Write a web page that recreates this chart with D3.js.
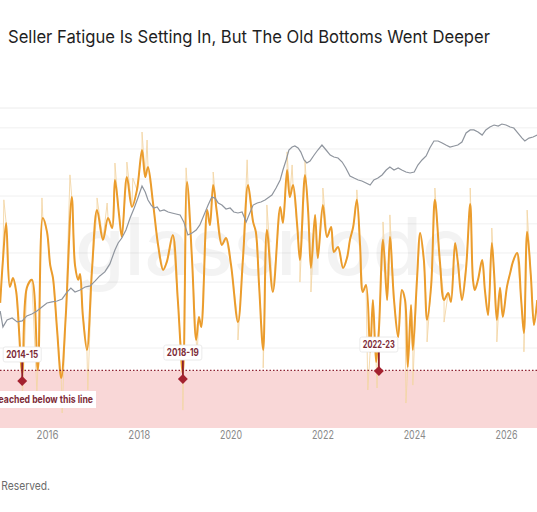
<!DOCTYPE html>
<html>
<head>
<meta charset="utf-8">
<script src="https://cdn.jsdelivr.net/npm/d3@7"></script>
<style>
body { margin: 0; background: #fff; }
svg { display: block; font-family: Inter, "Noto Sans", sans-serif; }
</style>
</head>
<body>
<div id="chart"></div>
<script>
// price (grey, log scale) - [decimal year, USD]
const priceSeries = [
  [2014.98,357],[2015.04,216],[2015.13,269],[2015.24,287],[2015.35,253],[2015.46,261],[2015.56,306],[2015.67,325],
  [2015.78,357],[2015.89,406],[2016.00,460],[2016.11,475],[2016.22,490],[2016.33,522],[2016.44,651],[2016.52,738],
  [2016.61,651],[2016.72,693],[2016.83,762],[2016.94,787],[2017.05,922],[2017.15,1080],[2017.26,1225],[2017.37,1577],
  [2017.48,2450],[2017.55,3055],[2017.63,3575],[2017.72,4600],[2017.81,6720],[2017.90,9200],[2017.98,12600],[2018.07,18400],
  [2018.14,15250],[2018.20,11850],[2018.27,10100],[2018.33,9200],[2018.40,9500],[2018.46,8380],[2018.55,8650],[2018.64,8110],
  [2018.72,7870],[2018.81,7620],[2018.90,7380],[2018.98,5930],[2019.07,3930],[2019.16,4190],[2019.25,4600],[2019.33,5390],
  [2019.42,7380],[2019.51,10100],[2019.59,13000],[2019.66,12600],[2019.73,10800],[2019.81,10100],[2019.90,8920],[2019.99,9200],
  [2020.07,8110],[2020.16,7870],[2020.25,8110],[2020.34,5930],[2020.40,7380],[2020.49,10100],[2020.58,10800],[2020.66,11130],
  [2020.75,11850],[2020.81,12600],[2020.90,13870],[2020.99,17300],[2021.08,22300],[2021.14,30500],[2021.21,41900],[2021.27,57400],
  [2021.34,63100],[2021.40,65100],[2021.47,61100],[2021.53,53800],[2021.60,41900],[2021.66,38100],[2021.73,40600],[2021.82,49000],
  [2021.90,57400],[2021.99,67100],[2022.08,57400],[2022.17,49000],[2022.25,46000],[2022.34,44600],[2022.43,39300],[2022.51,32500],
  [2022.60,25300],[2022.69,23700],[2022.78,22300],[2022.86,21600],[2022.95,20300],[2023.04,19000],[2023.12,22300],[2023.21,23700],
  [2023.30,26100],[2023.39,30500],[2023.47,33600],[2023.56,30500],[2023.65,32500],[2023.73,30500],[2023.82,28700],[2023.91,27800],
  [2024.00,28700],[2024.08,35700],[2024.17,41900],[2024.26,47500],[2024.34,61100],[2024.43,76200],[2024.52,76200],[2024.61,71600],
  [2024.69,67100],[2024.78,63100],[2024.87,65100],[2024.95,67100],[2025.04,73900],[2025.13,98100],[2025.22,108000],[2025.30,108000],
  [2025.39,101200],[2025.48,92000],[2025.56,108000],[2025.65,118600],[2025.74,126200],[2025.83,122300],[2025.91,130300],[2026.00,126200],
  [2026.09,118600],[2026.17,114800],[2026.26,98100],[2026.35,83700],[2026.41,76200],[2026.50,83700],[2026.59,86400],[2026.68,92000]
];

// oscillator, smoothed (orange) - [decimal year, value]
const oscSeries = [
  [2014.98,39.1],[2015.04,52.5],[2015.11,64.1],[2015.19,44.1],[2015.26,46.9],[2015.33,42.5],[2015.46,17.2],[2015.56,43.8],
  [2015.67,46.3],[2015.80,18.1],[2015.91,65.6],[2016.00,61.3],[2016.07,50.9],[2016.13,46.9],[2016.22,30.6],[2016.31,15.6],
  [2016.41,35.3],[2016.54,72.2],[2016.61,50.9],[2016.68,46.3],[2016.72,48.1],[2016.78,35.3],[2016.87,24.4],[2016.98,49.4],
  [2017.09,68.1],[2017.22,58.8],[2017.33,65.6],[2017.42,62.5],[2017.48,77.5],[2017.57,66.6],[2017.63,59.7],[2017.74,78.4],
  [2017.85,69.1],[2017.96,74.4],[2018.07,86.9],[2018.14,78.4],[2018.20,81.6],[2018.31,70.3],[2018.42,57.2],[2018.53,49.4],
  [2018.61,51.9],[2018.74,60.3],[2018.85,40.0],[2018.96,16.9],[2019.05,76.9],[2019.16,52.5],[2019.25,27.5],[2019.31,34.7],
  [2019.36,31.6],[2019.49,68.1],[2019.55,63.4],[2019.62,75.9],[2019.70,67.5],[2019.81,57.2],[2019.90,59.4],[2020.01,50.9],
  [2020.16,33.1],[2020.27,53.1],[2020.38,75.9],[2020.49,64.4],[2020.55,61.3],[2020.62,44.7],[2020.71,24.4],[2020.79,61.9],
  [2020.92,42.5],[2021.08,69.1],[2021.14,64.1],[2021.23,80.6],[2021.29,72.2],[2021.36,75.9],[2021.45,63.4],[2021.51,52.5],
  [2021.62,79.1],[2021.69,67.5],[2021.75,50.0],[2021.84,66.6],[2021.90,53.1],[2022.01,69.7],[2022.10,59.7],[2022.19,62.8],
  [2022.25,55.0],[2022.34,56.6],[2022.45,50.0],[2022.54,53.4],[2022.60,58.8],[2022.67,62.8],[2022.75,71.3],[2022.82,57.2],
  [2022.88,42.5],[2022.95,44.7],[2023.04,23.8],[2023.10,40.0],[2023.17,20.6],[2023.23,30.6],[2023.32,58.8],[2023.41,40.0],
  [2023.47,59.7],[2023.56,40.0],[2023.65,28.4],[2023.73,43.1],[2023.80,40.0],[2023.86,19.1],[2023.93,38.4],[2023.97,24.4],
  [2024.06,46.3],[2024.13,60.9],[2024.21,52.5],[2024.28,33.8],[2024.37,44.7],[2024.45,71.3],[2024.56,51.9],[2024.65,40.0],
  [2024.74,42.2],[2024.80,39.4],[2024.89,57.8],[2024.95,51.9],[2025.04,40.0],[2025.13,50.0],[2025.22,70.0],[2025.28,46.3],
  [2025.32,43.1],[2025.39,46.3],[2025.48,52.5],[2025.54,43.1],[2025.61,35.3],[2025.69,57.8],[2025.74,48.4],[2025.80,33.8],
  [2025.87,43.8],[2025.93,34.7],[2026.02,44.1],[2026.09,48.4],[2026.15,51.9],[2026.24,54.7],[2026.33,40.0],[2026.39,29.7],
  [2026.46,61.3],[2026.54,47.8],[2026.61,32.2],[2026.68,40.0]
];

// raw oscillator spikes (faint orange) - [decimal year, value]
const rawSpikes = [
  [2015.06,71.3],[2015.46,7.2],[2015.78,11.3],[2015.89,71.9],[2016.33,4.7],[2016.50,79.1],[2016.89,11.9],[2017.09,71.9],
  [2017.31,70.3],[2017.48,82.8],[2017.74,83.1],[2017.87,78.1],[2018.07,92.5],[2018.18,90.0],[2018.96,5.6],[2019.03,81.3],
  [2019.27,22.8],[2019.62,80.0],[2020.16,27.5],[2020.36,83.8],[2020.71,18.8],[2020.79,69.7],[2021.23,86.3],[2021.34,82.2],
  [2021.51,45.6],[2021.62,83.8],[2021.75,42.5],[2022.01,75.0],[2022.75,74.4],[2022.99,11.9],[2023.19,12.5],[2023.32,64.4],
  [2023.47,66.6],[2023.82,7.8],[2023.97,13.4],[2024.28,26.9],[2024.45,75.0],[2024.65,33.1],[2025.22,75.0],[2025.69,62.5],
  [2025.80,26.9],[2026.39,23.8],[2026.46,68.1]
];

// cycle bottoms
const bottomYears = [2015.46, 2018.96, 2023.23];
const bottomValues = [14.7, 15.3, 17.8];
const bottomLabels = ["2014-15", "2018-19", "2022-23"];

const threshold = 18;
const yearTicks = [2016, 2018, 2020, 2022, 2024, 2026];
const gridValues = [93.8, 87.2, 77.8, 72.5, 63.8, 54.7, 45.6, 34.4, 25.0];

const title = "Seller Fatigue Is Setting In, But The Old Bottoms Went Deeper";
const zoneNote = "Reached below this line";
const footer = "© 2025 Glassnode. All Rights Reserved.";

function drawChart() {
    const width = 537, height = 512;
    const top = 108, bottom = 428;

    const svg = d3.select("#chart").append("svg")
        .attr("width", width)
        .attr("height", height)
        .style("background", "#fff");

    const x = d3.scaleLinear().domain([2014.976, 2026.675]).range([0, width]);
    const yOsc = d3.scaleLinear().domain([0, 100]).range([bottom, top]);
    const yPrice = d3.scaleLog().domain([8.9, 216000]).range([bottom, top]);

    // title (source image is a bit squeezed sideways, hence textLength)
    svg.append("text")
        .attr("x", 8).attr("y", 43)
        .attr("fill", "#1f1f1f")
        .attr("textLength", 482)
        .attr("lengthAdjust", "spacingAndGlyphs")
        .style("font-size", "17.5px")
        .text(title);

    // top separator
    svg.append("line")
        .attr("x1", 0).attr("x2", width)
        .attr("y1", top).attr("y2", top)
        .attr("stroke", "#ececec");

    // grid lines
    svg.append("g").selectAll("line")
        .data(gridValues)
        .enter().append("line")
        .attr("x1", 0).attr("x2", width)
        .attr("y1", d => yOsc(d)).attr("y2", d => yOsc(d))
        .attr("stroke", "#f0f0f0");

    // watermark
    svg.append("text")
        .attr("x", 272).attr("y", 275)
        .attr("text-anchor", "middle")
        .attr("fill", "#000")
        .attr("opacity", 0.045)
        .style("font-size", "80px")
        .style("font-weight", 500)
        .text("glassnode");

    // pink zone below threshold
    svg.append("rect")
        .attr("x", 0).attr("width", width)
        .attr("y", yOsc(threshold))
        .attr("height", yOsc(0) - yOsc(threshold))
        .attr("fill", "#f9d7d7");

    svg.append("clipPath").attr("id", "plotclip")
        .append("rect").attr("x", 0).attr("y", top).attr("width", width).attr("height", bottom - top);

    const plot = svg.append("g").attr("clip-path", "url(#plotclip)");

    // faint raw line: smooth points plus the spikes
    const rawPoints = oscSeries.concat(rawSpikes).sort((a, b) => a[0] - b[0]);
    plot.append("path")
        .datum(rawPoints)
        .attr("fill", "none")
        .attr("stroke", "#f3d6a6")
        .attr("stroke-width", 0.9)
        .attr("d", d3.line().x(d => x(d[0])).y(d => yOsc(d[1])));

    // smoothed oscillator
    plot.append("path")
        .datum(oscSeries)
        .attr("fill", "none")
        .attr("stroke", "#eb9c2c")
        .attr("stroke-width", 2)
        .attr("stroke-linejoin", "round")
        .attr("d", d3.line().curve(d3.curveCatmullRom.alpha(0.5)).x(d => x(d[0])).y(d => yOsc(d[1])));

    // price
    plot.append("path")
        .datum(priceSeries)
        .attr("fill", "none")
        .attr("stroke", "#8f959e")
        .attr("stroke-width", 1.2)
        .attr("d", d3.line().x(d => x(d[0])).y(d => yPrice(d[1])));

    // threshold dotted line
    svg.append("line")
        .attr("x1", 0).attr("x2", width)
        .attr("y1", yOsc(threshold)).attr("y2", yOsc(threshold))
        .attr("stroke", "#8e2433")
        .attr("stroke-width", 1.2)
        .attr("stroke-dasharray", "1.5,2");

    // zone note
    const note = svg.append("g");
    note.append("rect")
        .attr("x", -4).attr("y", 391).attr("width", 100).attr("height", 17)
        .attr("fill", "#fff");
    note.append("text")
        .attr("x", 93).attr("y", 403)
        .attr("text-anchor", "end")
        .attr("fill", "#7d2c38")
        .attr("textLength", 100)
        .attr("lengthAdjust", "spacingAndGlyphs")
        .style("font-size", "10.5px")
        .style("font-weight", 700)
        .text(zoneNote);

    // bottom markers
    const marks = svg.append("g").selectAll("g")
        .data(bottomYears.map((t, i) => ({t: t, v: bottomValues[i], label: bottomLabels[i]})))
        .enter().append("g")
        .attr("transform", d => `translate(${x(d.t)},${yOsc(d.v)})`);

    marks.append("line")
        .attr("x1", 0).attr("x2", 0)
        .attr("y1", -19).attr("y2", 0)
        .attr("stroke", "#8e1f2c")
        .attr("stroke-width", 1.8);

    marks.append("rect")
        .attr("x", -3.5).attr("y", -3.5).attr("width", 7).attr("height", 7)
        .attr("transform", "rotate(45)")
        .attr("fill", "#a3212f");

    marks.append("rect")
        .attr("x", -19).attr("y", -34).attr("width", 38).attr("height", 15)
        .attr("rx", 2)
        .attr("fill", "#fff")
        .attr("stroke", "#e6e6e6")
        .attr("stroke-width", 0.8);

    marks.append("text")
        .attr("x", 0).attr("y", -22.8)
        .attr("text-anchor", "middle")
        .attr("fill", "#7d2c38")
        .attr("textLength", 32)
        .attr("lengthAdjust", "spacingAndGlyphs")
        .style("font-size", "10.5px")
        .style("font-weight", 700)
        .text(d => d.label);

    // x axis
    const xAxis = svg.append("g")
        .attr("transform", `translate(0,${bottom})`)
        .call(d3.axisBottom(x).tickValues(yearTicks).tickFormat(d3.format("d")).tickSize(0).tickPadding(2.5));
    xAxis.select(".domain").remove();
    xAxis.selectAll("text")
        .attr("fill", "#8a8a8a")
        .attr("textLength", 22)
        .attr("lengthAdjust", "spacingAndGlyphs")
        .style("font-size", "11.5px")
        .style("font-family", "Inter, 'Noto Sans', sans-serif");

    // footer
    svg.append("text")
        .attr("x", 50).attr("y", 489.5)
        .attr("text-anchor", "end")
        .attr("fill", "#6b6b6b")
        .attr("textLength", 194)
        .attr("lengthAdjust", "spacingAndGlyphs")
        .style("font-size", "12px")
        .text(footer);
}

drawChart();
</script>
</body>
</html>
